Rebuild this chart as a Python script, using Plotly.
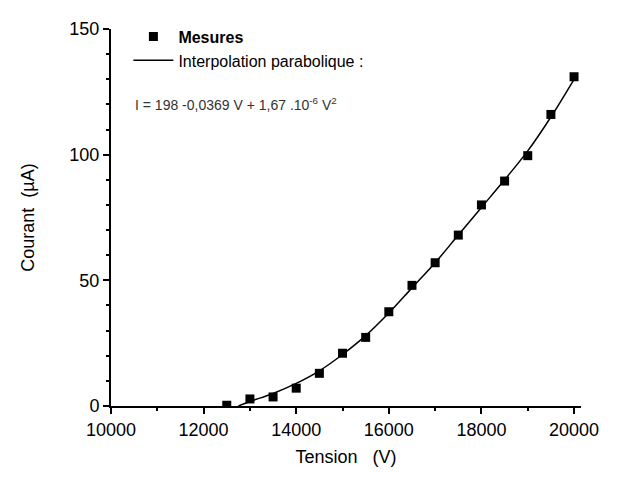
import plotly.graph_objects as go

tension = [12500, 13000, 13500, 14000, 14500, 15000, 15500, 16000,
           16500, 17000, 17500, 18000, 18500, 19000, 19500, 20000]
courant = [0.3, 2.8, 3.6, 7.1, 13.0, 21.0, 27.3, 37.5,
           48.0, 57.0, 68.0, 80.0, 89.5, 99.6, 116.0, 131.0]

# parabolic fit curve, sampled along the drawn line
fit_v = [12750, 13000, 13500, 14000, 14500, 15000, 15500, 16000,
         16500, 17000, 17500, 18000, 18500, 19000, 19500, 20000]
fit_i = [0.0, 1.8, 5.0, 9.0, 14.0, 20.5, 28.0, 37.0,
         47.0, 57.0, 68.0, 79.0, 90.0, 101.5, 115.0, 130.0]

x_ticks = [10000, 12000, 14000, 16000, 18000, 20000]
y_ticks = [0, 50, 100, 150]

FONT = "Liberation Sans, Arial, Helvetica, sans-serif"

fig = go.Figure()
fig.add_trace(go.Scatter(
    x=tension, y=courant, mode="markers", name="<b>Mesures</b>",
    marker=dict(symbol="square", size=9, color="black", line=dict(width=0)),
))
fig.add_trace(go.Scatter(
    x=fit_v, y=fit_i, mode="lines", name="Interpolation parabolique :",
    line=dict(color="black", width=1.5, shape="spline"),
))

fig.add_annotation(
    xref="paper", yref="paper", x=0.047, y=0.80, xanchor="left", yanchor="middle",
    text="I = 198 -0,0369 V + 1,67 .10<sup>-6</sup> V<sup>2</sup>",
    showarrow=False, font=dict(size=14, color="#333"),
)

axis_common = dict(
    showgrid=False, zeroline=False, showline=True, linecolor="black", linewidth=2,
    ticks="outside", ticklen=6, tickwidth=1.5, tickcolor="black",
    tickfont=dict(size=18, color="black"), tickformat="d",
)
fig.update_xaxes(
    range=[10000, 20150], tickvals=x_ticks,
    minor=dict(dtick=1000, tick0=10000, ticks="outside", ticklen=3, tickcolor="black"),
    title=dict(text="Tension   (V)", font=dict(size=18, color="black"), standoff=12),
    **axis_common,
)
fig.update_yaxes(
    range=[0, 150], tickvals=y_ticks,
    minor=dict(dtick=10, tick0=0, ticks="outside", ticklen=3, tickcolor="black"),
    title=dict(text="Courant  (µA)", font=dict(size=18, color="black"), standoff=30),
    **axis_common,
)

fig.update_layout(
    width=631, height=472,
    margin=dict(l=103, r=58, t=19, b=74),
    paper_bgcolor="white", plot_bgcolor="white",
    font=dict(family=FONT, color="black"),
    showlegend=True,
    legend=dict(x=0.037, y=1.025, xanchor="left", yanchor="top",
                bgcolor="rgba(0,0,0,0)", font=dict(size=16, color="black"),
                itemwidth=40, tracegroupgap=0),
)

fig.write_html("out.html")
